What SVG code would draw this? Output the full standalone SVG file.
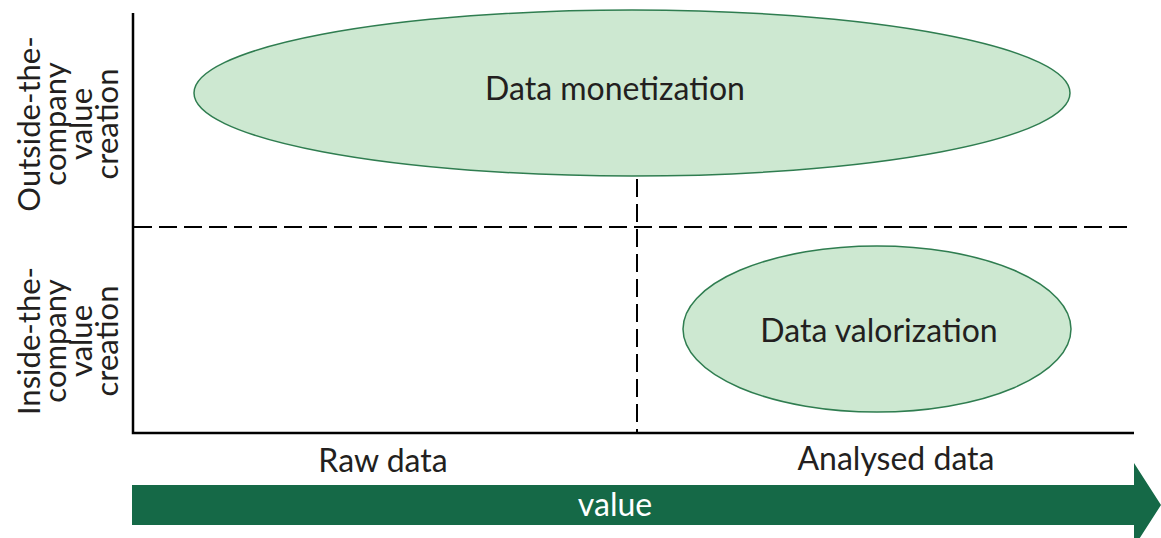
<svg xmlns="http://www.w3.org/2000/svg" width="1161" height="538" viewBox="0 0 1161 538">
  <style>
    .lbl { font-family: Lato, "Open Sans", "Liberation Sans", sans-serif; fill: #231f20; }
    .ax { stroke: #000; stroke-width: 2.5; fill: none; }
    .dash { stroke: #000; stroke-width: 2; stroke-dasharray: 18 7; fill: none; }
    .blob { fill: #cde8d1; stroke: #2f7d50; stroke-width: 1.5; }
  </style>
  <rect width="1161" height="538" fill="#fff"/>

  <g id="connectors">
    <!-- axes -->
    <path class="ax" d="M133 13 V433 H1134"/>
    <!-- quadrant dividers -->
    <line class="dash" x1="134" y1="227" x2="1134" y2="227"/>
    <line class="dash" x1="637" y1="179" x2="637" y2="433"/>
  </g>

  <g id="data-monetization">
    <ellipse class="blob" cx="632" cy="93" rx="438" ry="83"/>
    <text class="lbl" x="615" y="100" font-size="32" text-anchor="middle">Data monetization</text>
  </g>

  <g id="data-valorization">
    <ellipse class="blob" cx="877" cy="329" rx="194" ry="83"/>
    <text class="lbl" x="879" y="342" font-size="32" text-anchor="middle">Data valorization</text>
  </g>

  <g id="y-axis-outside" class="lbl" font-size="31" text-anchor="middle">
    <text transform="translate(40 124) rotate(-90)">Outside-the-</text>
    <text transform="translate(66 124) rotate(-90)">company</text>
    <text transform="translate(92 124) rotate(-90)">value</text>
    <text transform="translate(118 124) rotate(-90)">creation</text>
  </g>

  <g id="y-axis-inside" class="lbl" font-size="31" text-anchor="middle">
    <text transform="translate(40 341) rotate(-90)">Inside-the-</text>
    <text transform="translate(66 341) rotate(-90)">company</text>
    <text transform="translate(92 341) rotate(-90)">value</text>
    <text transform="translate(118 341) rotate(-90)">creation</text>
  </g>

  <g id="x-axis-labels" class="lbl" font-size="32" text-anchor="middle">
    <text x="383" y="472">Raw data</text>
    <text x="896" y="470">Analysed data</text>
  </g>

  <g id="value-arrow">
    <path d="M132 485 H1134 V463 L1161 505 L1134 547 V525 H132 Z" fill="#156947"/>
    <text x="615" y="516" font-size="32" text-anchor="middle" fill="#fff" font-family="Lato, 'Open Sans', 'Liberation Sans', sans-serif">value</text>
  </g>
</svg>
